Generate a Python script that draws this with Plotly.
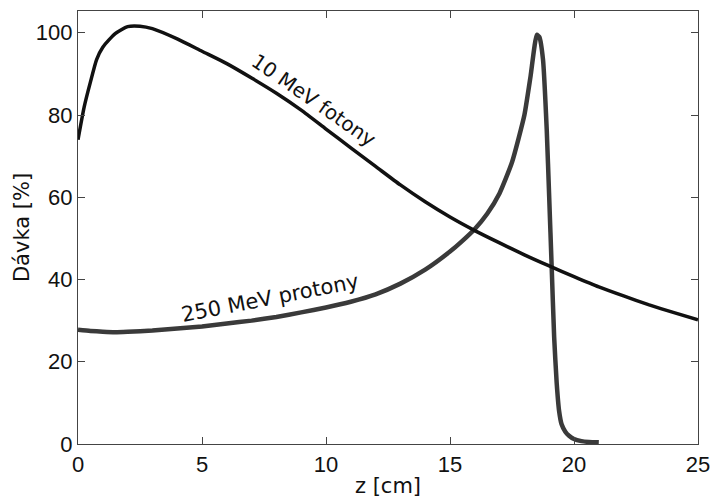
import plotly.graph_objects as go

# Depth (cm) and relative dose (%) for the 10 MeV photon beam
photon_z = [0, 0.25, 0.5, 0.75, 1.0, 1.5, 2.0, 2.5, 3.0, 4.0, 5.0, 6.0, 7.0, 8.0,
            9.0, 10.0, 11.0, 12.0, 13.0, 14.0, 15.0, 16.0, 17.0, 18.0, 19.0,
            20.0, 21.0, 22.0, 23.0, 24.0, 25.0]
photon_dose = [74.0, 82.0, 88.0, 93.5, 96.5, 99.8, 101.5, 101.6, 101.0, 98.5,
               95.5, 92.5, 89.0, 85.3, 81.2, 76.6, 72.0, 67.5, 63.0, 58.9,
               55.2, 51.9, 48.9, 46.0, 43.3, 40.7, 38.2, 36.0, 33.9, 32.0, 30.2]

# Depth (cm) and relative dose (%) for the 250 MeV proton beam (Bragg peak)
proton_z = [0, 0.5, 1, 1.5, 2, 3, 4, 5, 6, 7, 8, 9, 10, 11, 12, 13, 14, 15,
            15.5, 16, 16.5, 17, 17.5, 18, 18.25, 18.5, 18.6, 18.75, 18.9, 19.0,
            19.1, 19.2, 19.3, 19.4, 19.5, 19.65, 19.8, 20.0, 20.3, 20.6, 21.0]
proton_dose = [27.8, 27.5, 27.3, 27.2, 27.3, 27.6, 28.1, 28.6, 29.3, 30.0,
               30.9, 32.0, 33.2, 34.6, 36.4, 39.0, 42.4, 46.8, 49.4, 52.3,
               56.0, 61.0, 68.5, 80.0, 89.5, 99.5, 99.0, 93.5, 76.5, 60.0,
               43.0, 26.0, 15.0, 8.0, 4.8, 3.0, 2.0, 1.2, 0.7, 0.5, 0.4]

x_ticks = [0, 5, 10, 15, 20, 25]
y_ticks = [0, 20, 40, 60, 80, 100]

photon_label = "10 MeV fotony"
proton_label = "250 MeV protony"
x_title = "z [cm]"
y_title = "Dávka [%]"

fig = go.Figure()
fig.add_trace(go.Scatter(x=proton_z, y=proton_dose, mode="lines",
                         line=dict(color="#3a3a3a", width=4.5, shape="spline", smoothing=0.5),
                         name=proton_label, showlegend=False))
fig.add_trace(go.Scatter(x=photon_z, y=photon_dose, mode="lines",
                         line=dict(color="#111111", width=3.5, shape="spline", smoothing=0.6),
                         name=photon_label, showlegend=False))

fig.add_annotation(x=9.5, y=83.6, text=photon_label, showarrow=False,
                   textangle=34.7, xanchor="center", yanchor="middle",
                   font=dict(family="DejaVu Sans", size=20, color="#111111"))
fig.add_annotation(x=7.75, y=35.5, text=proton_label, showarrow=False,
                   textangle=-11, xanchor="center", yanchor="middle",
                   font=dict(family="DejaVu Sans", size=21, color="#111111"))

axis_common = dict(showline=True, linecolor="#444444", linewidth=1.2,
                   mirror="allticks", ticks="inside", ticklen=7,
                   tickcolor="#444444", showgrid=False, zeroline=False,
                   automargin=False,
                   tickfont=dict(family="Liberation Sans", size=22, color="#111111"))

fig.update_xaxes(range=[0, 25], tickvals=x_ticks,
                 title=dict(text=x_title, standoff=4,
                            font=dict(family="DejaVu Sans", size=21, color="#111111")),
                 **axis_common)
fig.update_yaxes(range=[0, 105.3], tickvals=y_ticks,
                 title=dict(text=y_title, standoff=0,
                            font=dict(family="DejaVu Sans", size=21, color="#111111")),
                 **axis_common)

fig.update_layout(width=713, height=498,
                  margin=dict(l=78, r=15, t=11, b=54),
                  paper_bgcolor="white", plot_bgcolor="white")

fig.write_html("out.html")
